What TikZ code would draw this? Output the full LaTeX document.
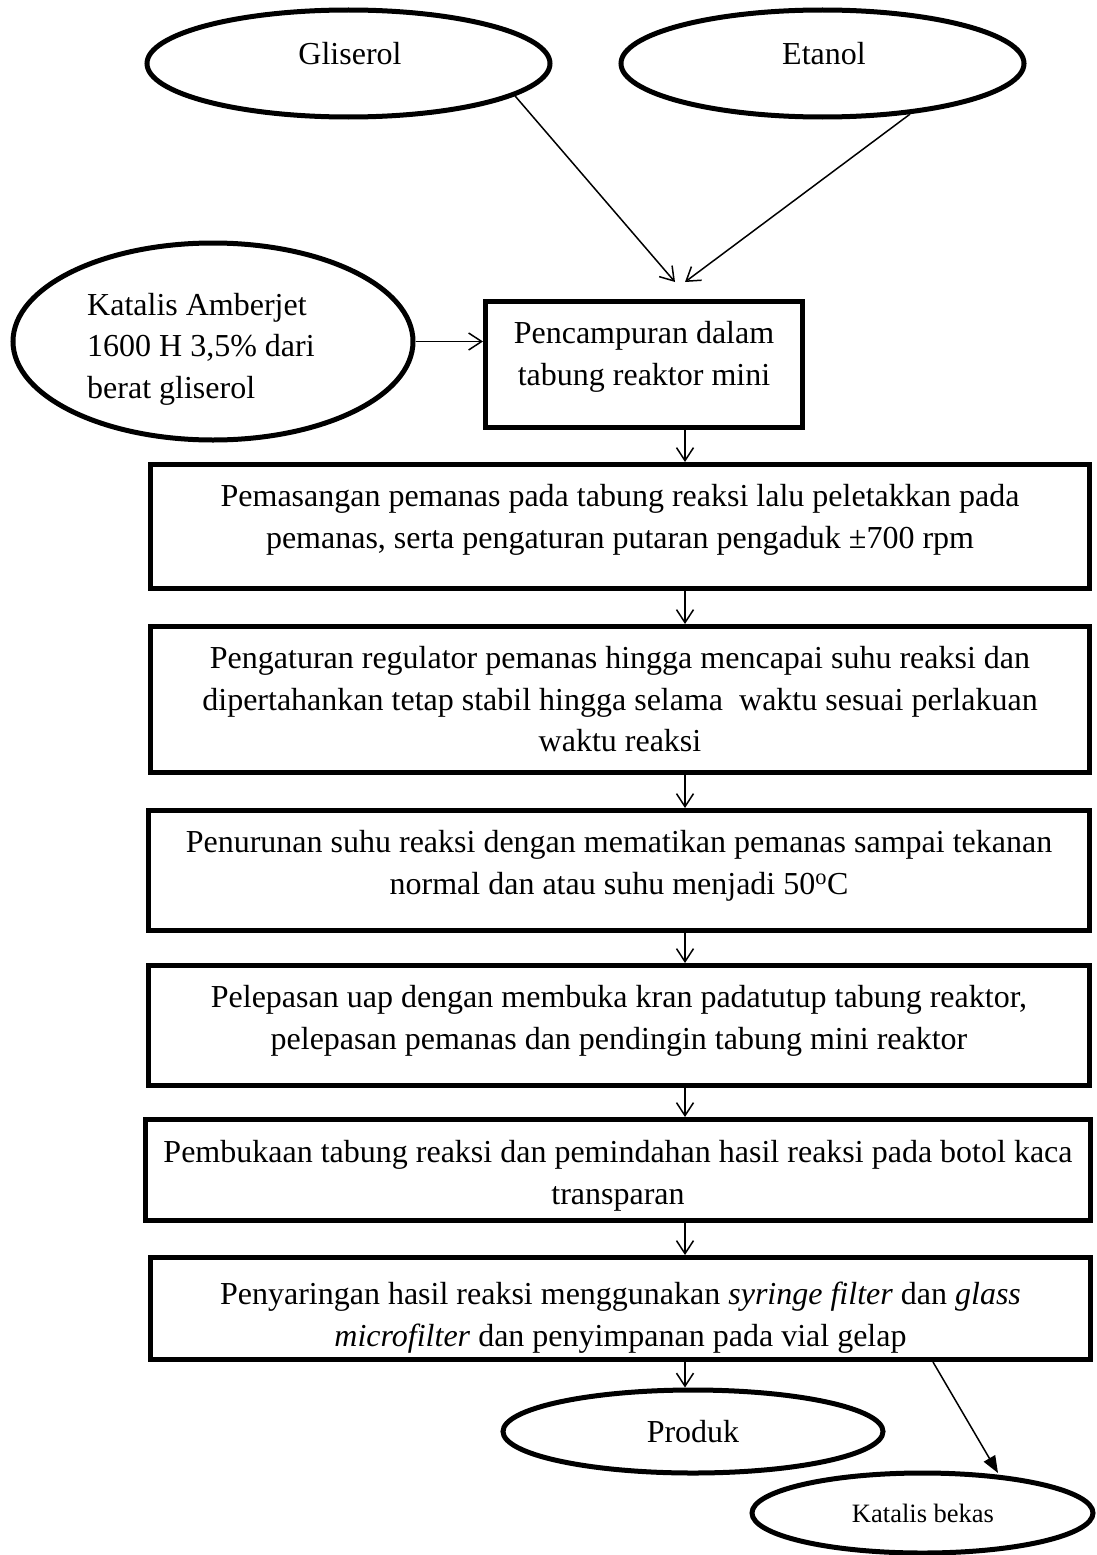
\documentclass[tikz,border=0pt]{standalone}
\usepackage{fontspec}
\setmainfont{Liberation Serif}
\usetikzlibrary{shapes.geometric,arrows.meta}
\newcommand{\bodyfont}{\fontsize{32pt}{41.5pt}\selectfont}
\newcommand{\smallfont}{\fontsize{26.5pt}{32pt}\selectfont}
\newcommand{\bx}[4][42pt]{\parbox[c][#2][t]{#3}{\centering\rule{0pt}{#1}#4\par}}
\tikzset{
  box/.style={draw, line width=5pt, rectangle, inner sep=0pt, font=\bodyfont, anchor=north west},
  oval/.style={draw, ellipse, line width=5pt, inner sep=0pt},
  lbl/.style={font=\bodyfont, inner sep=0pt},
  arr/.style={line width=1.5pt, -{Straight Barb[length=13pt,width=17pt,line width=1.5pt]}},
  arrf/.style={line width=1.5pt, -{Triangle[length=17pt,width=13pt]}},
}
\begin{document}
\begin{tikzpicture}[x=1pt,y=-1pt]
\useasboundingbox (0,0) rectangle (1096,1555);
% ovals
\node[oval, minimum width=403pt, minimum height=107pt] (gli) at (348.5,63.5) {};
\node[oval, minimum width=403pt, minimum height=107pt] (eta) at (822.5,63.5) {};
\node[oval, minimum width=400pt, minimum height=197pt] (kat) at (213,341.5) {};
\node[oval, minimum width=380pt, minimum height=83pt] (pro) at (693,1431.5) {};
\node[oval, minimum width=341pt, minimum height=80pt] (kb) at (922.5,1513) {};
\node[lbl, anchor=base] (tgli) at (350,65) {Gliserol};
\node[lbl, anchor=base] (teta) at (824,65) {Etanol};
\node[lbl, anchor=north west] (tkat) at (87,273) {\parbox[t]{260pt}{\raggedright\rule{0pt}{42pt}Katalis Amberjet\\1600 H 3,5\% dari\\berat gliserol\par}};
\node[lbl, anchor=base] (tpro) at (693,1442) {Produk};
\node[lbl, anchor=base, font=\smallfont] (tkb) at (923,1522) {Katalis bekas};
% boxes
\node[box] (b1) at (483,299) {\bx{126pt}{317pt}{Pencampuran dalam\\tabung reaktor mini}};
\node[box] (b2) at (148,462) {\bx{124pt}{939pt}{Pemasangan pemanas pada tabung reaksi lalu peletakkan pada\\pemanas, serta pengaturan putaran pengaduk ±700 rpm}};
\node[box] (b3) at (148,624) {\bx{146pt}{939pt}{Pengaturan regulator pemanas hingga mencapai suhu reaksi dan\\dipertahankan tetap stabil hingga selama\ \ waktu sesuai perlakuan\\waktu reaksi}};
\node[box] (b4) at (146,808) {\bx{120pt}{941pt}{Penurunan suhu reaksi dengan mematikan pemanas sampai tekanan\\normal dan atau suhu menjadi 50\textsuperscript{o}C}};
\node[box] (b5) at (146,963) {\bx{120pt}{941pt}{Pelepasan uap dengan membuka kran padatutup tabung reaktor,\\pelepasan pemanas dan pendingin tabung mini reaktor}};
\node[box] (b6) at (143,1117) {\bx[43pt]{101pt}{945pt}{Pembukaan tabung reaksi dan pemindahan hasil reaksi pada botol kaca\\transparan}};
\node[box] (b7) at (148,1255) {\bx[47pt]{102pt}{940pt}{Penyaringan hasil reaksi menggunakan \textit{syringe filter} dan \textit{glass}\\\textit{microfilter} dan penyimpanan pada vial gelap}};
% connectors
\coordinate (tipG) at (675,282);
\coordinate (tipE) at (685,282);
\coordinate (ax) at (685,0);
\coordinate (kbx) at (933,0);
\coordinate (kbt) at (998,1473);
\draw[arr] (gli.-11) -- (tipG);
\draw[arr] (eta.-30) -- (tipE);
\draw[arr] (kat.east) -- (kat.east -| b1.west);
\draw[arr] (b1.south -| ax) -- (b2.north -| ax);
\draw[arr] (b2.south -| ax) -- (b3.north -| ax);
\draw[arr] (b3.south -| ax) -- (b4.north -| ax);
\draw[arr] (b4.south -| ax) -- (b5.north -| ax);
\draw[arr] (b5.south -| ax) -- (b6.north -| ax);
\draw[arr] (b6.south -| ax) -- (b7.north -| ax);
\draw[arr] (b7.south -| ax) -- (pro.north -| ax);
\draw[arrf] (b7.south -| kbx) -- (kbt);
\end{tikzpicture}
\end{document}
